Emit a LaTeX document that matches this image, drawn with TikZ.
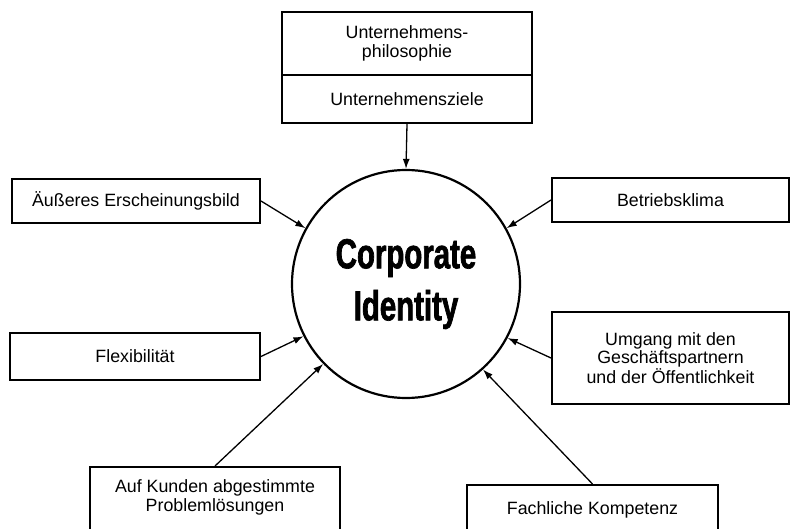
\documentclass[tikz,border=0pt]{standalone}
\usepackage{fontspec}
\setmainfont{Liberation Sans}
\newfontfamily\cifont[FakeStretch=0.7,FakeBold=1.6]{Liberation Sans}
\usetikzlibrary{arrows.meta}

\tikzset{every picture/.style={line width=1.3pt}}

\begin{document}
\begin{tikzpicture}[x=1pt,y=1pt,yscale=-1,xscale=1,
	box/.style={draw, line width=2pt, align=center, inner sep=0pt, font=\fontsize{17.8}{19}\selectfont},
	pfeil/.style={-{Latex[length=10pt,width=7pt]}, line width=1.3pt}]
	\clip (0,0) rectangle (792,529); %picture is 792 wide, 529 high

	%Shape: Circle
	\node [draw, circle, line width=2.2pt, minimum size=228pt, inner sep=0pt, align=center, font={\cifont\bfseries\fontsize{42}{52}\selectfont}] (ci) at (406,284) {Corporate\\Identity};

	% Text Node
	\node [box, minimum width=250pt, minimum height=63pt] (philo) at (407,43.5) {Unternehmens-\\philosophie};
	% Text Node
	\node [box, minimum width=250pt, minimum height=48pt] (ziele) at (407,99) {Unternehmensziele};
	% Text Node
	\node [box, minimum width=248pt, minimum height=44pt] (aeusseres) at (136,201) {Äußeres Erscheinungsbild};
	% Text Node
	\node [box, minimum width=237pt, minimum height=44pt] (betrieb) at (670.5,200) {Betriebsklima};
	% Text Node
	\node [box, minimum width=250pt, minimum height=47pt] (flex) at (135,356.5) {Flexibilität};
	% Text Node
	\node [box, minimum width=237pt, minimum height=92pt, font=\fontsize{17.8}{18}\selectfont] (umgang) at (670.5,358) {Umgang mit den\\Geschäftspartnern\\und der Öffentlichkeit};
	% Text Node
	\node [box, anchor=north, minimum width=250pt, inner ysep=13pt, text depth=45pt] (kunden) at (215,466) {Auf Kunden abgestimmte\\Problemlösungen};
	% Text Node
	\node [box, anchor=north, minimum width=251pt, inner ysep=17pt, text depth=40pt] (fach) at (592.5,484) {Fachliche Kompetenz};

	%Straight Lines
	\draw [pfeil] (ziele.south) -- (ci.north);
	\draw [pfeil] (aeusseres.east) -- (ci.151);
	\draw [pfeil] (betrieb.west) -- (ci.29);
	\draw [pfeil] (flex.east) -- (ci.207);
	\draw [pfeil] (umgang.west) -- (ci.332);
	\draw [pfeil] (kunden.north) -- (ci.224);
	\draw [pfeil] (fach.north) -- (ci.312);
\end{tikzpicture}
\end{document}
